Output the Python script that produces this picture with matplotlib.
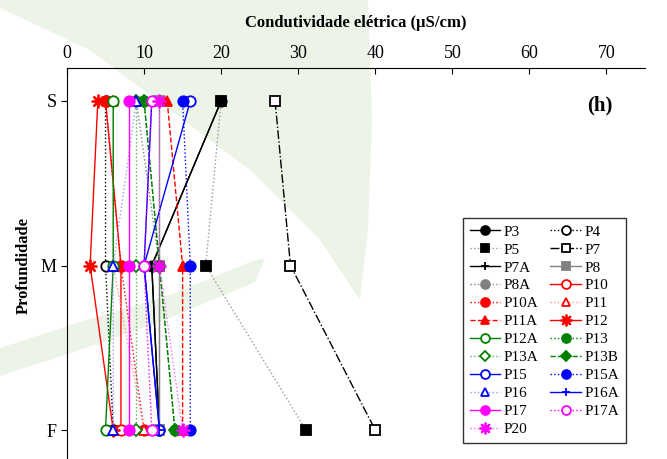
import matplotlib.pyplot as plt
from matplotlib.patches import Polygon

plt.rcParams['font.family'] = ['Liberation Serif', 'DejaVu Serif']

depths = ['S', 'M', 'F']
names = ['P3', 'P4', 'P5', 'P7', 'P7A', 'P8', 'P8A', 'P10', 'P10A', 'P11',
         'P11A', 'P12', 'P12A', 'P13', 'P13A', 'P13B', 'P15', 'P15A', 'P16',
         'P16A', 'P17', 'P17A', 'P20']
values = {
    'P3': [20, 11, 12],
    'P4': [5, 5, 6],
    'P5': [20, 18, 31],
    'P7': [27, 29, 40],
    'P7A': [20, 11, 12],
    'P8': [12, 12, 12],
    'P8A': [9, 12, 12],
    'P10': [5, 7, 7],
    'P10A': [5, 7, 10],
    'P11': [6, 6, 10],
    'P11A': [13, 15, 15],
    'P12': [4, 3, 6],
    'P12A': [6, 6, 5],
    'P13': [10, 12, 14],
    'P13A': [9, 9, 9],
    'P13B': [10, 12, 14],
    'P15': [16, 10, 12],
    'P15A': [15, 16, 16],
    'P16': [9, 6, 6],
    'P16A': [11, 10, 12],
    'P17': [8, 8, 8],
    'P17A': [11, 10, 11],
    'P20': [12, 12, 15],
}
# (color, linestyle, marker, filled)
styles = {
    'P3': ('black', '-', 'o', True),
    'P4': ('black', ':', 'o', False),
    'P5': ('#999999', ':', 's', True),
    'P7': ('black', '-.', 's', False),
    'P7A': ('black', '-', '+', True),
    'P8': ('gray', '-', 's', True),
    'P8A': ('gray', ':', 'o', True),
    'P10': ('red', '-', 'o', False),
    'P10A': ('red', ':', 'o', True),
    'P11': ('#ff9999', ':', '^', False),
    'P11A': ('red', '--', '^', True),
    'P12': ('red', '-', '$\u2733$', True),
    'P12A': ('green', '-', 'o', False),
    'P13': ('green', ':', 'o', True),
    'P13A': ('#66aa66', ':', 'D', False),
    'P13B': ('green', '--', 'D', True),
    'P15': ('blue', '-', 'o', False),
    'P15A': ('blue', ':', 'o', True),
    'P16': ('#9999ff', ':', '^', False),
    'P16A': ('blue', '-', '+', True),
    'P17': ('magenta', '-', 'o', True),
    'P17A': ('magenta', ':', 'o', False),
    'P20': ('#ff66ff', ':', '$\u2733$', True),
}
marker_colors = {'P5': 'black', 'P11': 'red', 'P13A': 'green', 'P16': 'blue',
                 'P20': 'magenta'}

fig = plt.figure(figsize=(6.67, 4.59), dpi=100)

# light green watermark in the background (pixel coords, y down)
bg = [
    [(0, 0), (368, 0), (372, 120), (368, 230), (360, 300), (320, 240),
     (250, 170), (170, 110), (90, 50), (0, 8)],
    [(0, 348), (80, 322), (170, 295), (250, 262), (265, 258), (255, 282),
     (170, 318), (80, 350), (0, 376)],
]
for pts in bg:
    fig.patches.append(Polygon([(x / 667, 1 - y / 459) for x, y in pts],
                               closed=True, transform=fig.transFigure,
                               facecolor='#ebf4e7', edgecolor='none',
                               zorder=-5))

ax = fig.add_axes([67 / 667, -4 / 459, 578 / 667, 395 / 459])
ax.patch.set_alpha(0)

ypos = [0, 1, 2]
for n in names:
    c, ls, m, filled = styles[n]
    mc = marker_colors.get(n, c)
    ms = 9 if m.startswith('$') else (6 if m == 'D' else 7.5)
    ax.plot(values[n], ypos, color=c, linestyle=ls, linewidth=1,
            marker=m, markersize=ms, markeredgecolor=mc,
            markerfacecolor=mc if filled else 'white',
            markeredgewidth=1.3, label=n)

ax.set_xlim(0, 75)
ax.set_ylim(2.2, -0.2)
ax.set_xticks(range(0, 80, 10))
ax.set_yticks(ypos)
ax.set_yticklabels(depths)
ax.xaxis.tick_top()
ax.xaxis.set_label_position('top')
ax.tick_params(axis='x', direction='in', length=4, labelsize=13, pad=4)
ax.tick_params(axis='y', direction='out', length=4, labelsize=13)
ax.spines['right'].set_visible(False)
ax.spines['bottom'].set_visible(False)
ax.set_xlabel('Condutividade elétrica (\u03bcS/cm)', fontsize=12,
              fontweight='bold', labelpad=13)
ax.set_ylabel('Profundidade', fontsize=12, fontweight='bold', labelpad=6)
ax.text(0.921, 0.905, '(h)', transform=ax.transAxes, fontsize=15,
        fontweight='bold', ha='center', va='center')

# legend filled row by row like the original (two columns)
handles, labels = ax.get_legend_handles_labels()
order = list(range(0, len(names), 2)) + list(range(1, len(names), 2))
leg = ax.legend([handles[i] for i in order], [labels[i] for i in order],
                ncol=2, loc='upper left',
                bbox_to_anchor=(463 / 667, 1 - 218 / 459),
                bbox_transform=fig.transFigure, borderaxespad=0,
                fontsize=11, frameon=True, fancybox=False, edgecolor='black',
                handlelength=2.0, handletextpad=0.2, columnspacing=0.8,
                labelspacing=0.28, borderpad=0.45, markerscale=0.85)
leg.get_frame().set_linewidth(1)

fig.savefig('out.png', dpi=100)
